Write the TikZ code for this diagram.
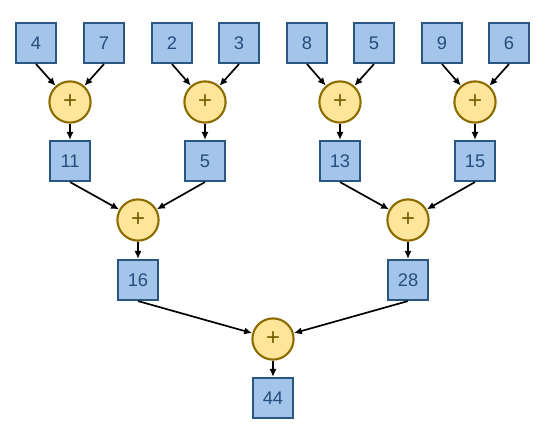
\documentclass[tikz,border=0pt]{standalone}
\usepackage{fontspec}
\setmainfont{Liberation Sans}
\usetikzlibrary{arrows.meta, positioning}
\definecolor{sumblue}{RGB}{164,197,234}
\definecolor{sumdarkblue}{RGB}{42,86,130}
\definecolor{sumtext}{RGB}{36,76,124}
\definecolor{sumyellow}{RGB}{255,229,153}
\definecolor{sumolive}{RGB}{140,108,0}
\tikzset{
  valbox/.style={
    rectangle, draw=sumdarkblue, line width=1.5pt, fill=sumblue,
    minimum size=1.0cm, inner sep=0pt, text=sumtext,
    font=\fontsize{13}{15}\selectfont
  },
  addop/.style={
    circle, draw=sumolive, line width=1.5pt, fill=sumyellow,
    minimum size=1.03cm, inner sep=0pt, text=sumolive!85!black,
    font=\fontsize{17}{19}\selectfont
  },
  sumflow/.style={-{Latex[length=2mm, width=1.8mm]}, line width=1.2pt, draw=black}
}
\begin{document}
\begin{tikzpicture}[x=0.025cm, y=-0.025cm]
\useasboundingbox (0,0) rectangle (547,428);

% Leaves
\node[valbox] (a1) at (36,43) {4};
\node[valbox] (a2) at (104,43) {7};
\node[valbox] (a3) at (172,43) {2};
\node[valbox] (a4) at (239,43) {3};
\node[valbox] (a5) at (307,43) {8};
\node[valbox] (a6) at (374,43) {5};
\node[valbox] (a7) at (442,43) {9};
\node[valbox] (a8) at (509,43) {6};

% First additions
\node[addop] (p1) at (70,102) {+};
\node[addop] (p2) at (205,102) {+};
\node[addop] (p3) at (340,102) {+};
\node[addop] (p4) at (475,102) {+};
\node[valbox] (b1) at (70,161) {11};
\node[valbox] (b2) at (205,161) {5};
\node[valbox] (b3) at (340,161) {13};
\node[valbox] (b4) at (475,161) {15};

\foreach \i/\l/\r in {1/1/2, 2/3/4, 3/5/6, 4/7/8} {
  \draw[sumflow] (a\l.south) -- (p\i);
  \draw[sumflow] (a\r.south) -- (p\i);
  \draw[sumflow] (p\i) -- (b\i);
}

% Second additions
\node[addop] (q1) at (138,220) {+};
\node[addop] (q2) at (408,220) {+};
\node[valbox] (c1) at (138,280) {16};
\node[valbox] (c2) at (408,280) {28};

\draw[sumflow] (b1.south) -- (q1);
\draw[sumflow] (b2.south) -- (q1);
\draw[sumflow] (q1) -- (c1);
\draw[sumflow] (b3.south) -- (q2);
\draw[sumflow] (b4.south) -- (q2);
\draw[sumflow] (q2) -- (c2);

% Final sum
\node[addop] (r) at (273,339) {+};
\node[valbox] (s) at (273,398) {44};
\draw[sumflow] (c1.south) -- (r);
\draw[sumflow] (c2.south) -- (r);
\draw[sumflow] (r) -- (s);

\end{tikzpicture}
\end{document}
